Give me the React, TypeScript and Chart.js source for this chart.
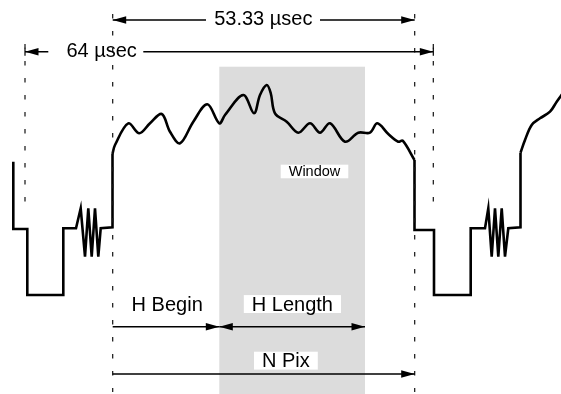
import React, { useEffect, useRef } from "react";
import { Chart, registerables } from "chart.js";

Chart.register(...registerables);

// ---- Waveform of one video line (diagram units: x = time across, y = level, downward) ----
const leftSyncX = [13.3, 13.3, 27.3, 27.3, 63.3, 63.3, 76, 80.7, 85, 88.3, 91.7, 95, 98.3, 100.7, 112.5, 112.5];
const leftSyncY = [161.7, 229, 229, 295, 295, 228.3, 228.3, 208.3, 256.7, 208.3, 256.7, 208.3, 256.7, 228.3, 227.3, 154];

const videoX = [112.5, 115, 128.3, 139.3, 150, 161.7, 170, 180, 193.3, 207.3, 219.3, 225, 243.3, 254, 260, 266.7, 270.7, 275, 286.7, 298.3, 310, 320, 330, 345, 358.3, 370, 377.3, 388.3, 398.3, 402.7, 414.5];
const videoY = [154, 145, 123.3, 133.3, 123.3, 114, 131.7, 143.3, 121.7, 104.3, 123.3, 115, 95, 113.3, 95, 85, 93, 113.3, 121.7, 132.7, 123.3, 132.7, 123.3, 141.7, 132.7, 132.7, 123.3, 134, 141.7, 140.7, 160];

const rightSyncX = [414.5, 414.5, 434, 434, 470.7, 470.7, 485, 488.3, 491.7, 495, 498.3, 501.7, 505, 508.3, 520.5, 520.5];
const rightSyncY = [160, 230, 230, 295, 295, 228.3, 228.3, 208.3, 256.7, 208.3, 256.7, 208.3, 256.7, 228.3, 227.3, 152.7];

const nextVideoX = [520.5, 525, 531.7, 540, 550, 556.7, 563];
const nextVideoY = [152.7, 140, 125, 118.3, 111.7, 101.7, 93];

// ---- Window region ----
const windowX = [219.3, 365];
const windowTop = 66.7;

// ---- Guide (dashed) lines ----
const guideX = [25, 112.7, 414.7, 433.3];
const guideFrom = [44, 14, 14, 44];
const guideTo = [208, 392, 392, 208];

// ---- Dimension arrows ----
const arrowFromX = [112.7, 25, 112.7, 219.3, 112.7];
const arrowToX = [414.7, 433.3, 219.3, 365, 414.7];
const arrowY = [20, 51.7, 326.7, 326.7, 374];
const arrowStartHead = [true, true, false, true, false];
const arrowGapFrom = [206, 48.3];
const arrowGapTo = [320, 143.3];

// ---- Labels ----
const labelText = ["53.33 µsec", "64 µsec", "H Begin", "H Length", "N Pix", "Window"];
const labelX = [263.3, 101.6, 167.2, 292.4, 285.9, 314.5];
const labelBaseY = [25, 57, 310.7, 310.7, 367.3, 176];
const labelBoxed = [false, false, false, true, true, true];

const FONT = '"Liberation Sans", Arial, Helvetica, sans-serif';

function pts(xs: number[], ys: number[]) {
  return xs.map((x, i) => ({ x, y: ys[i] }));
}

const diagramPlugin = {
  id: "diagram",
  beforeDatasetsDraw(chart: any) {
    const { ctx, scales } = chart;
    const px = (v: number) => scales.x.getPixelForValue(v);
    const py = (v: number) => scales.y.getPixelForValue(v);
    ctx.save();
    ctx.fillStyle = "#dcdcdc";
    const x0 = px(windowX[0]);
    const x1 = px(windowX[1]);
    const y0 = py(windowTop);
    const y1 = py(394);
    ctx.fillRect(x0, y0, x1 - x0, y1 - y0);
    ctx.restore();
  },
  afterDatasetsDraw(chart: any) {
    const { ctx, scales } = chart;
    const px = (v: number) => scales.x.getPixelForValue(v);
    const py = (v: number) => scales.y.getPixelForValue(v);
    ctx.save();

    // dashed guides
    ctx.strokeStyle = "#111";
    ctx.lineWidth = 1.2;
    ctx.setLineDash([4.5, 12.5]);
    guideX.forEach((gx, i) => {
      ctx.beginPath();
      ctx.moveTo(px(gx), py(guideFrom[i]));
      ctx.lineTo(px(gx), py(guideTo[i]));
      ctx.stroke();
    });
    ctx.setLineDash([]);

    // arrows
    const head = (tx: number, ty: number, dir: number) => {
      const L = 13.5;
      const h = 3.8;
      ctx.beginPath();
      ctx.moveTo(tx, ty);
      ctx.lineTo(tx - dir * L, ty - h);
      ctx.lineTo(tx - dir * L, ty + h);
      ctx.closePath();
      ctx.fill();
    };
    ctx.strokeStyle = "#000";
    ctx.fillStyle = "#000";
    ctx.lineWidth = 1.4;
    arrowY.forEach((ay, i) => {
      const xa = px(arrowFromX[i]);
      const xb = px(arrowToX[i]);
      const y = py(ay);
      ctx.beginPath();
      if (i < arrowGapFrom.length) {
        ctx.moveTo(xa, y);
        ctx.lineTo(px(arrowGapFrom[i]), y);
        ctx.moveTo(px(arrowGapTo[i]), y);
        ctx.lineTo(xb, y);
      } else {
        ctx.moveTo(xa, y);
        ctx.lineTo(xb, y);
      }
      ctx.stroke();
      head(xb, y, 1);
      if (arrowStartHead[i]) head(xa, y, -1);
    });
    // end ticks of the 64 µsec dimension
    ctx.lineWidth = 1.2;
    [arrowFromX[1], arrowToX[1]].forEach((tx) => {
      ctx.beginPath();
      ctx.moveTo(px(tx), py(arrowY[1] - 4));
      ctx.lineTo(px(tx), py(arrowY[1] + 4));
      ctx.stroke();
    });

    // labels
    labelText.forEach((t, i) => {
      const size = i === 5 ? 14.5 : 20;
      ctx.font = `${size}px ${FONT}`;
      ctx.textAlign = "center";
      ctx.textBaseline = "alphabetic";
      const cx = px(labelX[i]);
      const by = py(labelBaseY[i]);
      if (labelBoxed[i]) {
        const w = ctx.measureText(t).width;
        ctx.fillStyle = "#fff";
        const top = by - size * 0.78;
        ctx.fillRect(cx - w / 2 - 8, top, w + 16, by + 2.3 - top);
      }
      ctx.fillStyle = "#000";
      ctx.fillText(t, cx, by);
    });
    ctx.restore();
  },
};

export default function App() {
  const ref = useRef<HTMLCanvasElement | null>(null);
  useEffect(() => {
    if (!ref.current) return;
    const common = {
      borderColor: "#000",
      borderWidth: 2.6,
      pointRadius: 0,
      showLine: true,
      fill: false,
      borderCapStyle: "butt",
    };
    const chart = new Chart(ref.current, {
      type: "scatter",
      data: {
        datasets: [
          { ...common, data: pts(leftSyncX, leftSyncY), tension: 0, borderJoinStyle: "miter" },
          { ...common, data: pts(videoX, videoY), tension: 0.35, borderJoinStyle: "round" },
          { ...common, data: pts(rightSyncX, rightSyncY), tension: 0, borderJoinStyle: "miter" },
          { ...common, data: pts(nextVideoX, nextVideoY), tension: 0.35, borderJoinStyle: "round" },
        ] as any,
      },
      options: {
        responsive: false,
        maintainAspectRatio: false,
        animation: false,
        devicePixelRatio: 1,
        events: [],
        layout: { padding: 0 },
        plugins: { legend: { display: false }, tooltip: { enabled: false } },
        scales: {
          x: { type: "linear", display: false, min: 0, max: 561 },
          y: { type: "linear", display: false, min: 0, max: 394, reverse: true },
        },
      },
      plugins: [diagramPlugin],
    });
    return () => chart.destroy();
  }, []);
  return (
    <div style={{ position: "absolute", left: 0, top: 0, width: 561, height: 394, background: "#fff" }}>
      <canvas ref={ref} width={561} height={394} style={{ display: "block" }} />
    </div>
  );
}
